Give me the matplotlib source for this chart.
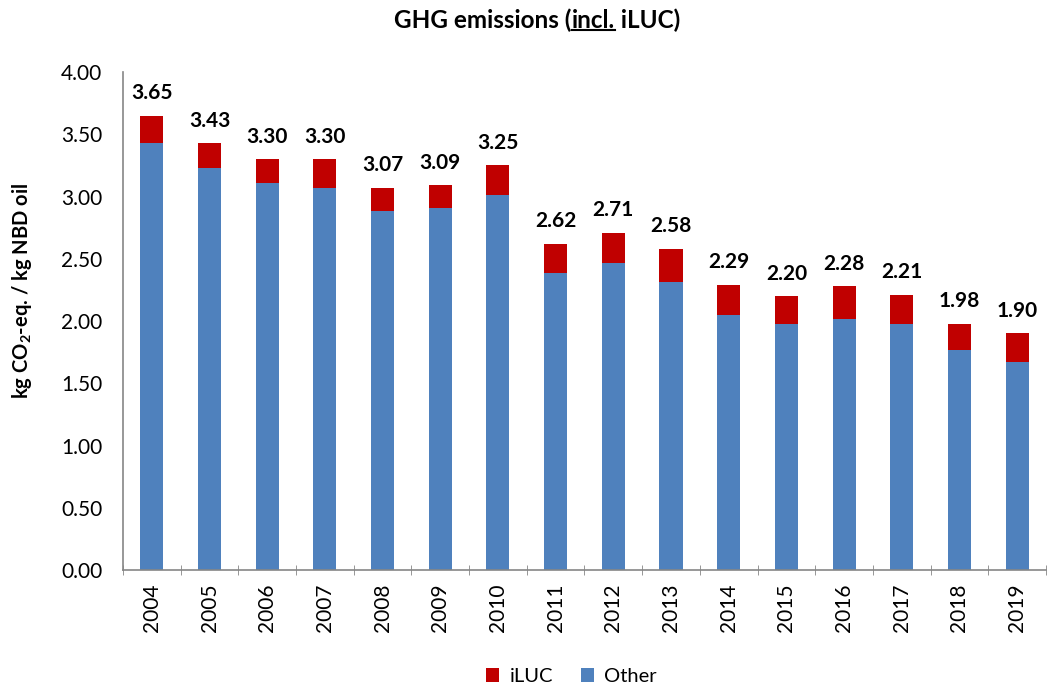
import numpy as np
from matplotlib import pyplot as plt
from matplotlib.lines import Line2D

years = ["2004", "2005", "2006", "2007", "2008", "2009", "2010", "2011",
         "2012", "2013", "2014", "2015", "2016", "2017", "2018", "2019"]
totals = [3.65, 3.43, 3.30, 3.30, 3.07, 3.09, 3.25, 2.62,
          2.71, 2.58, 2.29, 2.20, 2.28, 2.21, 1.98, 1.90]
other = [3.43, 3.23, 3.11, 3.07, 2.88, 2.91, 3.01, 2.385,
         2.47, 2.31, 2.05, 1.98, 2.02, 1.98, 1.77, 1.67]
iluc = [t - o for t, o in zip(totals, other)]

plt.rcParams['font.family'] = ['Lato', 'DejaVu Sans']
plt.rcParams['mathtext.fontset'] = 'custom'
plt.rcParams['mathtext.rm'] = 'Lato'
plt.rcParams['mathtext.bf'] = 'Lato:bold'

blue = '#4F81BD'
red = '#C00000'
grey = '#868686'

fig = plt.figure(figsize=(10.47, 6.93), dpi=100)
ax = fig.add_axes([0.1175, 0.1775, 0.8815, 0.7185])

x = np.arange(len(years))
ax.bar(x, other, width=0.4, color=blue, label='Other', zorder=2)
ax.bar(x, iluc, width=0.4, bottom=other, color=red, label='iLUC', zorder=2)

# value labels above each stack
for xi, t in zip(x, totals):
    ax.annotate(f"{t:.2f}", (xi, t), xytext=(0, 9), textcoords='offset points',
                ha='center', va='bottom', fontsize=15, fontweight='bold')

ax.set_xlim(-0.5, len(years) - 0.5)
ax.set_ylim(0, 4)
ax.set_yticks(np.arange(0, 4.01, 0.5))
ax.set_yticklabels([f"{v:.2f}" for v in np.arange(0, 4.01, 0.5)], fontsize=15)
ax.set_xticks(x)
ax.set_xticklabels(years, rotation=90, fontsize=15)
ax.set_xticks(np.arange(-0.5, len(years)), minor=True)
ax.tick_params(axis='x', which='major', length=0, pad=10)
ax.tick_params(axis='x', which='minor', direction='inout', length=7, color=grey)
ax.tick_params(axis='y', length=0, pad=15)

for s in ['top', 'right']:
    ax.spines[s].set_visible(False)
for s in ['left', 'bottom']:
    ax.spines[s].set_color(grey)
    ax.spines[s].set_linewidth(1.2)

# axis title sits a bit below the plot centre, as in the original
fig.text(22 / 1047, 0.58, r"kg CO$_\mathbf{2}$-eq. / kg NBD oil", fontsize=14.5,
         fontweight='bold', rotation=90, ha='center', va='center')

handles, labels = ax.get_legend_handles_labels()
fig.legend(handles[::-1], labels[::-1], loc='center', bbox_to_anchor=(0.546, 0.024),
           ncol=2, frameon=False, fontsize=14.5, handlelength=0.65, handleheight=0.65,
           columnspacing=1.4, handletextpad=0.5)

# title with underlined "incl."
parts = ["GHG emissions (", "incl.", " iLUC)"]
ty = 0.971
t1 = fig.text(0.5, ty, parts[0], fontsize=17.5, fontweight='bold', ha='left', va='center')
t2 = fig.text(0, ty, parts[1], fontsize=17.5, fontweight='bold', ha='left', va='center')
t3 = fig.text(0, ty, parts[2], fontsize=17.5, fontweight='bold', ha='left', va='center')
fig.canvas.draw()
r = fig.canvas.get_renderer()
w1 = t1.get_window_extent(r).width
w2 = t2.get_window_extent(r).width
w3 = t3.get_window_extent(r).width
W = fig.bbox.width
H = fig.bbox.height
start = 537 - (w1 + w2 + w3) / 2
t1.set_x(start / W)
t2.set_x((start + w1) / W)
t3.set_x((start + w1 + w2) / W)
fig.canvas.draw()
bb = t2.get_window_extent(r)
uy = (bb.y0 + 2) / H
fig.add_artist(Line2D([bb.x0 / W, bb.x1 / W], [uy, uy],
                      color='black', lw=1.5, transform=fig.transFigure))

fig.savefig('out.png', dpi=100)
